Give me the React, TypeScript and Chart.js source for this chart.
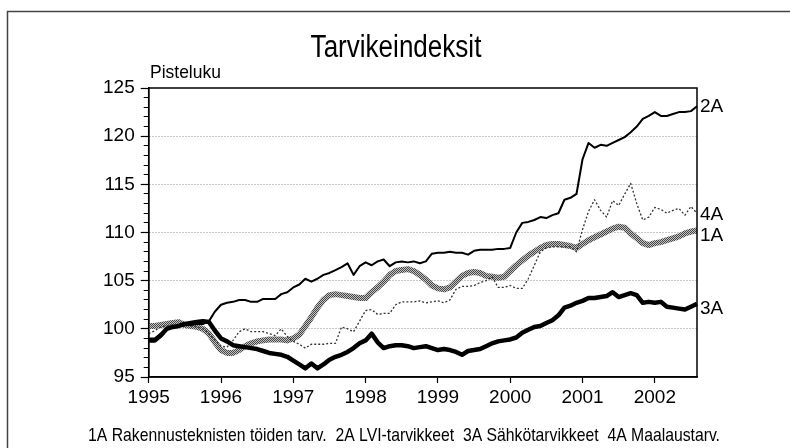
import { useEffect, useRef } from 'react';
import { Chart, registerables } from 'chart.js';

Chart.register(...registerables);

const START_YEAR = 1995;
const MONTH_COUNT = 92; // Jan 1995 .. Aug 2002
const months: string[] = Array.from({ length: MONTH_COUNT }, (_, i) =>
  `${START_YEAR + Math.floor(i / 12)}-${String((i % 12) + 1).padStart(2, '0')}`
);

const Y_MIN = 95;
const Y_MAX = 125;
const Y_STEP = 5;

const TITLE = 'Tarvikeindeksit';
const Y_TITLE = 'Pisteluku';
const LEGEND_TEXT =
  '1A Rakennusteknisten töiden tarv.  2A LVI-tarvikkeet  3A Sähkötarvikkeet  4A Maalaustarv.';

// 1A Rakennusteknisten töiden tarvikkeet
const series1A: number[] = [
  100.3, 100.3, 100.4, 100.5, 100.6, 100.7, 100.4, 100.3, 100.2, 100.0, 99.5, 98.6,
  97.8, 97.5, 97.5, 97.8, 98.2, 98.5, 98.7, 98.8, 98.9, 98.9, 98.9, 98.8,
  99.0, 99.4, 100.3, 101.2, 102.2, 103.0, 103.5, 103.6, 103.5, 103.4, 103.3, 103.2,
  103.2, 103.8, 104.3, 104.9, 105.6, 106.0, 106.1, 106.2, 106.0, 105.6, 105.1, 104.5,
  104.2, 104.1, 104.3, 104.9, 105.5, 105.8, 105.9, 105.8, 105.5, 105.4, 105.3, 105.4,
  106.0, 106.6, 107.1, 107.6, 108.0, 108.4, 108.7, 108.8, 108.8, 108.7, 108.6, 108.4,
  108.8, 109.2, 109.5, 109.8, 110.1, 110.4, 110.6, 110.5, 109.9, 109.4, 108.9, 108.7,
  108.9, 109.0, 109.2, 109.4, 109.6, 109.9, 110.1, 110.2,
];

// 2A LVI-tarvikkeet
const series2A: number[] = [
  99.0, 99.0, 99.5, 100.0, 100.2, 100.3, 100.4, 100.4, 100.5, 100.5, 100.8, 101.8,
  102.5, 102.7, 102.8, 103.0, 103.0, 102.8, 102.8, 103.1, 103.1, 103.1, 103.6, 103.8,
  104.3, 104.6, 105.2, 104.9, 105.2, 105.6, 105.8, 106.1, 106.4, 106.8, 105.6, 106.5,
  106.9, 106.6, 107.0, 107.2, 106.5, 106.9, 107.0, 106.9, 107.0, 106.8, 107.0, 107.8,
  107.9, 107.9, 108.0, 107.9, 107.9, 107.7, 108.1, 108.2, 108.2, 108.2, 108.3, 108.3,
  108.4, 110.0, 111.0, 111.1, 111.3, 111.6, 111.5, 111.8, 112.0, 113.4, 113.6, 114.0,
  117.6, 119.3, 118.8, 119.1, 119.0, 119.3, 119.6, 119.9, 120.4, 121.0, 121.8, 122.1,
  122.5, 122.1, 122.1, 122.3, 122.5, 122.5, 122.6, 123.1,
];

// 3A Sähkötarvikkeet
const series3A: number[] = [
  98.8, 98.8, 99.3, 100.0, 100.2, 100.3, 100.5, 100.6, 100.7, 100.8, 100.7, 99.8,
  99.0, 98.7, 98.3, 98.2, 98.1, 98.0, 97.9, 97.7, 97.5, 97.4, 97.3, 97.1,
  96.7, 96.3, 95.9, 96.4, 95.9, 96.3, 96.8, 97.1, 97.3, 97.6, 98.0, 98.5,
  98.8, 99.5, 98.6, 98.0, 98.2, 98.3, 98.3, 98.2, 98.0, 98.1, 98.2, 98.0,
  97.8, 97.9, 97.8, 97.6, 97.3, 97.7, 97.8, 97.9, 98.2, 98.5, 98.7, 98.8,
  98.9, 99.1, 99.6, 99.9, 100.2, 100.3, 100.6, 100.9, 101.4, 102.2, 102.4, 102.7,
  102.9, 103.2, 103.2, 103.3, 103.4, 103.8, 103.3, 103.5, 103.7, 103.5, 102.7, 102.8,
  102.7, 102.8, 102.3, 102.2, 102.1, 102.0, 102.3, 102.6,
];

// 4A Maalaustarvikkeet
const series4A: number[] = [
  99.5, 99.8, 100.2, 100.3, 100.4, 100.3, 100.4, 100.3, 100.2, 100.0, 99.5, 98.8,
  98.2, 98.1, 98.8, 99.7, 100.0, 99.7, 99.7, 99.7, 99.5, 99.3, 100.0, 99.2,
  98.7, 98.4, 98.0, 98.4, 98.4, 98.4, 98.5, 98.5, 100.2, 100.0, 99.7, 100.8,
  101.9, 102.0, 101.5, 101.6, 101.6, 102.5, 102.8, 102.8, 102.8, 102.9, 102.7, 102.8,
  102.9, 102.7, 103.0, 104.1, 104.4, 104.4, 104.5, 104.8, 105.0, 105.4, 104.3, 104.3,
  104.5, 104.2, 104.2, 105.2, 106.6, 108.0, 108.4, 108.5, 108.5, 108.5, 108.5, 108.0,
  110.3, 112.2, 113.4, 112.3, 111.6, 113.3, 112.8, 114.0, 115.1, 113.0, 111.3, 111.6,
  112.6, 112.4, 112.0, 112.3, 112.5, 111.8, 112.7, 112.0,
];

const FONT = '"Liberation Sans", Arial, Helvetica, sans-serif';

function makeHatch(): CanvasPattern | string {
  const c = document.createElement('canvas');
  c.width = 2;
  c.height = 2;
  const g = c.getContext('2d');
  if (!g) return '#999';
  g.fillStyle = '#c4c4c4';
  g.fillRect(0, 0, 2, 2);
  g.fillStyle = '#454545';
  g.fillRect(0, 0, 1, 1);
  g.fillRect(1, 1, 1, 1);
  const p = g.createPattern(c, 'repeat');
  return p || '#999';
}

function drawScaledText(
  ctx: CanvasRenderingContext2D,
  text: string,
  x: number,
  y: number,
  font: string,
  scaleX: number,
  align: 'left' | 'center'
) {
  ctx.save();
  ctx.font = font;
  ctx.textBaseline = 'alphabetic';
  ctx.textAlign = 'left';
  const w = ctx.measureText(text).width * scaleX;
  const left = align === 'center' ? x - w / 2 : x;
  ctx.translate(left, y);
  ctx.scale(scaleX, 1);
  ctx.fillText(text, 0, 0);
  ctx.restore();
}

export default function App() {
  const canvasRef = useRef<HTMLCanvasElement | null>(null);

  useEffect(() => {
    document.body.style.margin = '0';
    const canvas = canvasRef.current;
    if (!canvas) return;
    const hatch = makeHatch();

    const endLabels = [
      { name: '2A', data: series2A, dy: 0 },
      { name: '4A', data: series4A, dy: 2 },
      { name: '1A', data: series1A, dy: 5 },
      { name: '3A', data: series3A, dy: 5 },
    ];

    const textPlugin = {
      id: 'textPlugin',
      afterDraw(chart: any) {
        const ctx: CanvasRenderingContext2D = chart.ctx;
        const area = chart.chartArea;
        const yScale = chart.scales.y;
        ctx.save();
        // outer frame
        ctx.strokeStyle = '#444';
        ctx.lineWidth = 1.5;
        ctx.beginPath();
        ctx.moveTo(7.5, 448);
        ctx.lineTo(7.5, 11.5);
        ctx.lineTo(790, 11.5);
        ctx.stroke();
        // plot frame
        ctx.strokeStyle = '#000';
        ctx.lineWidth = 1.5;
        ctx.strokeRect(area.left, area.top, area.right - area.left, area.bottom - area.top);
        ctx.fillStyle = '#000';
        drawScaledText(ctx, TITLE, 396, 57, `31px ${FONT}`, 0.84, 'center');
        drawScaledText(ctx, Y_TITLE, 150, 78, `19px ${FONT}`, 0.92, 'left');
        // end labels
        ctx.font = `19px ${FONT}`;
        ctx.textAlign = 'left';
        ctx.textBaseline = 'middle';
        endLabels.forEach((l) => {
          const v = l.data[l.data.length - 1];
          ctx.fillText(l.name, area.right + 3, yScale.getPixelForValue(v) + l.dy);
        });
        // legend
        ctx.font = `19px ${FONT}`;
        const mw = ctx.measureText(LEGEND_TEXT).width;
        drawScaledText(ctx, LEGEND_TEXT, 88, 441, `19px ${FONT}`, 632 / mw, 'left');
        ctx.restore();
      },
    };

    const chart = new Chart(canvas, {
      type: 'line',
      data: {
        labels: months,
        datasets: [
          {
            label: '2A',
            data: series2A,
            borderColor: '#000',
            borderWidth: 2,
            pointRadius: 0,
            order: 0,
          },
          {
            label: '3A',
            data: series3A,
            borderColor: '#000',
            borderWidth: 4.5,
            pointRadius: 0,
            order: 1,
          },
          {
            label: '4A',
            data: series4A,
            borderColor: '#333',
            borderWidth: 1.3,
            borderDash: [2, 2],
            pointRadius: 0,
            order: 2,
          },
          {
            label: '1A',
            data: series1A,
            borderColor: hatch as any,
            borderWidth: 6,
            pointRadius: 0,
            order: 3,
          },
        ],
      },
      options: {
        animation: false,
        responsive: true,
        maintainAspectRatio: false,
        layout: { padding: { top: 88, right: 93, left: 0, bottom: 0 } },
        elements: { line: { tension: 0, borderJoinStyle: 'round', borderCapStyle: 'butt' } },
        plugins: {
          legend: { display: false },
          title: { display: false },
          tooltip: { enabled: false },
        },
        scales: {
          x: {
            type: 'category',
            offset: false,
            ticks: {
              autoSkip: false,
              maxRotation: 0,
              minRotation: 0,
              padding: 3,
              color: '#000',
              font: { family: FONT, size: 19 },
              callback: (_v: any, i: number) => (i % 12 === 0 ? String(START_YEAR + i / 12) : ''),
            },
            grid: {
              drawOnChartArea: false,
              drawTicks: true,
              tickLength: 6,
              tickWidth: 1.2,
              tickColor: (c: any) => (c.index % 12 === 0 ? '#000' : 'rgba(0,0,0,0)'),
            },
            border: { display: true, color: '#000', width: 1.5 },
            afterFit: (s: any) => {
              s.height = 448 - 377;
            },
          },
          y: {
            type: 'linear',
            position: 'left',
            weight: 1,
            min: Y_MIN,
            max: Y_MAX,
            ticks: {
              stepSize: Y_STEP,
              padding: 6,
              color: '#000',
              font: { family: FONT, size: 19 },
            },
            grid: {
              drawOnChartArea: true,
              color: (c: any) =>
                c.tick && c.tick.value > Y_MIN && c.tick.value < Y_MAX ? '#8c8c8c' : 'rgba(0,0,0,0)',
              lineWidth: 1,
              drawTicks: true,
              tickLength: 8,
              tickWidth: 1.2,
              tickColor: '#000',
            },
            border: { display: true, color: '#000', width: 1.5, dash: [1, 2] },
            afterFit: (s: any) => {
              s.width = 148.7;
            },
          },
          yMinor: {
            type: 'linear',
            position: 'left',
            weight: 0,
            min: Y_MIN,
            max: Y_MAX,
            ticks: { stepSize: 1, display: false },
            grid: {
              drawOnChartArea: false,
              drawTicks: true,
              tickLength: 5,
              tickWidth: 1,
              tickColor: '#000',
            },
            border: { display: false },
            afterFit: (s: any) => {
              s.width = 0;
            },
          },
        },
      },
      plugins: [textPlugin],
    } as any);

    return () => {
      chart.destroy();
    };
  }, []);

  return (
    <div style={{ position: 'absolute', left: 0, top: 0, width: 790, height: 448, background: '#fff' }}>
      <canvas ref={canvasRef} />
    </div>
  );
}
